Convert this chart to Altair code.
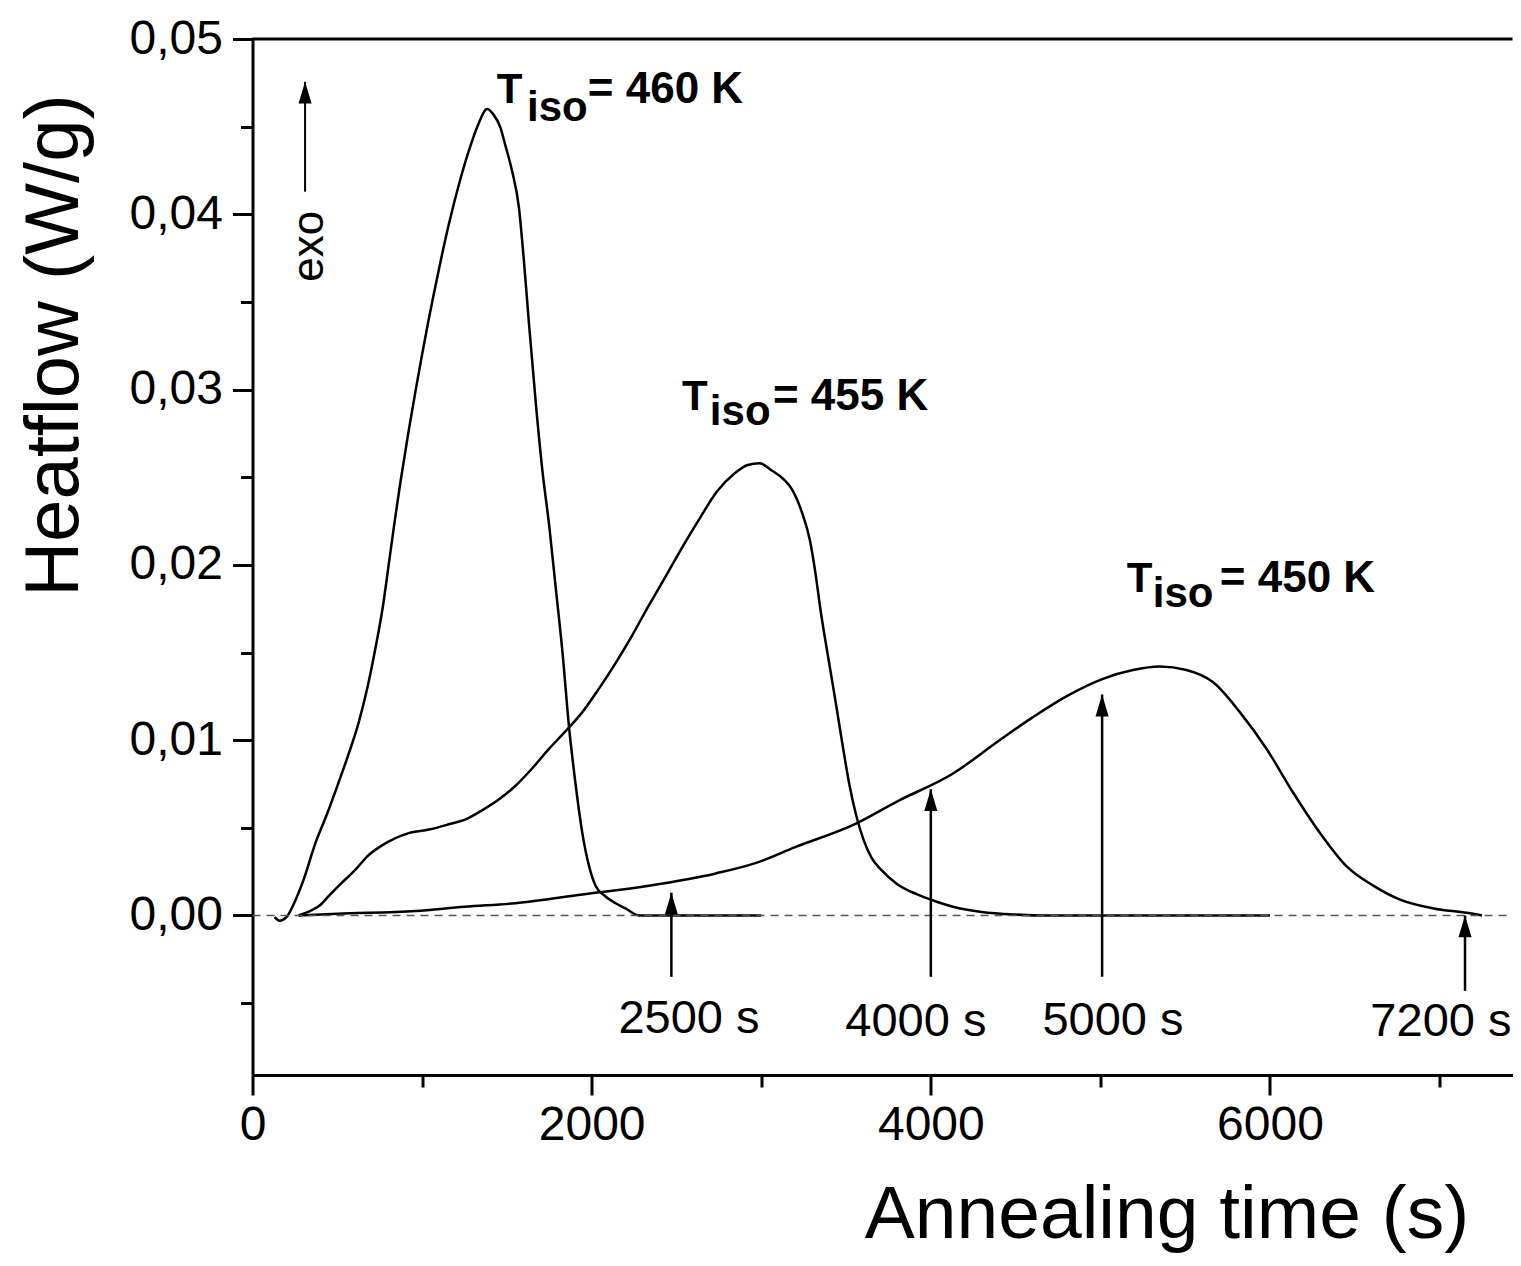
import altair as alt
import pandas as pd

# ---- data ----
t460 = [130, 160, 200, 250, 300, 370, 440, 508, 570, 626, 680, 724, 770, 803, 840, 872, 920, 961, 1000,
        1039, 1100, 1157, 1220, 1275, 1330, 1384, 1420, 1460, 1492, 1530, 1571, 1600, 1630, 1670, 1708,
        1750, 1787, 1830, 1866, 1905, 1945, 1985, 2023, 2080, 2141, 2200, 2279, 3000]
h460 = [-0.0001, -0.0003, -0.0001, 0.0008, 0.0020, 0.0041, 0.0058, 0.0076, 0.0093, 0.0110, 0.0131, 0.0152,
        0.0177, 0.0200, 0.0226, 0.0247, 0.0276, 0.0299, 0.0320, 0.0340, 0.0369, 0.0394, 0.0418, 0.0436,
        0.0451, 0.0460, 0.0457, 0.0450, 0.0439, 0.0425, 0.0404, 0.0374, 0.0338, 0.0293, 0.0255, 0.0222,
        0.0188, 0.0148, 0.0108, 0.0075, 0.0047, 0.0028, 0.0017, 0.0011, 0.0007, 0.0004, 0.0000, 0.0000]

t455 = [272, 350, 400, 449, 520, 606, 680, 764, 840, 921, 1040, 1157, 1260, 1354, 1450, 1551, 1650, 1748,
        1845, 1945, 2040, 2141, 2240, 2338, 2440, 2540, 2640, 2740, 2840, 2920, 2990, 3060, 3130, 3182,
        3240, 3287, 3320, 3350, 3390, 3435, 3480, 3519, 3560, 3604, 3650, 3708, 3800, 3920, 4030, 4131,
        4300, 4500, 4700, 6000]
h455 = [0.0, 0.0003, 0.0006, 0.0011, 0.0018, 0.0026, 0.0034, 0.0040, 0.0044, 0.0047, 0.0049, 0.0052,
        0.0055, 0.0060, 0.0066, 0.0074, 0.0084, 0.0095, 0.0105, 0.0116, 0.0129, 0.0144, 0.0160, 0.0177,
        0.0194, 0.0211, 0.0227, 0.0242, 0.0252, 0.0257, 0.0258, 0.0254, 0.0249, 0.0243, 0.0230, 0.0214,
        0.0195, 0.0174, 0.0150, 0.0124, 0.0097, 0.0075, 0.0057, 0.0043, 0.0033, 0.0026, 0.0018, 0.0012,
        0.0008, 0.0005, 0.0002, 0.00005, 0.0, 0.0]

t450 = [272, 500, 961, 1250, 1551, 1945, 2338, 2732, 2970, 3200, 3549, 3800, 4131, 4405, 4600, 4799,
        5015, 5192, 5350, 5507, 5665, 5822, 5980, 6137, 6295, 6452, 6609, 6767, 6964, 7161, 7250]
h450 = [0.0, 0.0001, 0.00025, 0.0005, 0.0007, 0.0012, 0.0017, 0.0024, 0.0030, 0.0039, 0.0052, 0.0065,
        0.0081, 0.0100, 0.0113, 0.0125, 0.0135, 0.0140, 0.0142, 0.0140, 0.0133, 0.0116, 0.0095, 0.0070,
        0.0047, 0.0028, 0.0017, 0.0009, 0.0004, 0.00015, 0.0]

# arrows marking times
arrow_x = [2470, 4000, 5010, 7150]
arrow_tip = [0.0013, 0.0072, 0.0126, 0.0]
arrow_base = [-0.0035, -0.0035, -0.0035, -0.0043]
arrow_labels = ["2500 s", "4000 s", "5000 s", "7200 s"]
arrow_label_x = [2574, 3912, 5074, 7008]
arrow_label_y = [-0.0067, -0.0069, -0.0068, -0.0069]

# peak labels: "T", subscript "iso", "= ... K"
sym_text = ["T", "iso", "T", "iso", "T", "iso"]
sym_x = [1441, 1619, 2532, 2697, 5156, 5309]
sym_y = [0.04637, 0.04532, 0.02886, 0.02800, 0.01848, 0.01757]
val_text = ["= 460 K", "= 455 K", "= 450 K"]
val_x = [1977, 3069, 5704]
val_y = [0.04637, 0.02886, 0.01848]

x_major = [0, 2000, 4000, 6000]
x_minor = [1000, 3000, 5000, 7000]
y_major = [0.0, 0.01, 0.02, 0.03, 0.04, 0.05]
y_minor = [-0.005, 0.005, 0.015, 0.025, 0.035, 0.045]

FONT = "Liberation Sans"
xs = alt.Scale(domain=[0, 7430], nice=False, zero=False)
ys = alt.Scale(domain=[-0.0091, 0.05], nice=False, zero=False)

rows = []
for name, ts, hs in [("460 K", t460, h460), ("455 K", t455, h455), ("450 K", t450, h450)]:
    for i, (t, h) in enumerate(zip(ts, hs)):
        rows.append({"series": name, "i": i, "x": t, "y": h})
curves_df = pd.DataFrame(rows)

x_axis = alt.Axis(
    values=x_major, format="d", orient="bottom",
    tickSize=20, tickWidth=3, tickColor="black", domainWidth=3, domainColor="black",
    labelFont=FONT, labelFontSize=48, labelColor="black", labelPadding=6,
    labelFlush=False, labelOverlap=False, grid=False,
    title="Annealing time (s)", titleFont=FONT, titleFontSize=75, titleFontWeight="normal",
    titleColor="black", titleX=914, titleY=162, titleAlign="center", titleBaseline="alphabetic",
)
y_axis = alt.Axis(
    values=y_major, orient="left",
    labelExpr="replace(format(datum.value, '.2f'), '.', ',')",
    tickSize=20, tickWidth=3, tickColor="black", domainWidth=3, domainColor="black",
    labelFont=FONT, labelFontSize=48, labelColor="black", labelPadding=10,
    labelFlush=False, labelOverlap=False, grid=False,
    title="Heatflow (W/g)", titleFont=FONT, titleFontSize=76, titleFontWeight="normal",
    titleColor="black", titleAngle=270, titleX=-175, titleY=306, titleAlign="center",
    titleBaseline="alphabetic",
)
x_minor_axis = alt.Axis(
    values=x_minor, orient="bottom", tickSize=12, tickWidth=3, tickColor="black",
    labels=False, domain=False, grid=False, title=None,
)
y_minor_axis = alt.Axis(
    values=y_minor, orient="left", tickSize=12, tickWidth=3, tickColor="black",
    labels=False, domain=False, grid=False, title=None,
)

curves = alt.Chart(curves_df).mark_line(color="black", strokeWidth=2.5, interpolate="monotone").encode(
    x=alt.X("x:Q", scale=xs, axis=x_axis),
    y=alt.Y("y:Q", scale=ys, axis=y_axis),
    detail="series:N",
    order="i:Q",
)

baseline = alt.Chart(pd.DataFrame({"x": [0, 7430], "y": [0.0, 0.0]})).mark_line(
    color="#555555", strokeWidth=1.6, strokeDash=[8, 6]
).encode(
    x=alt.X("x:Q", scale=xs, axis=x_minor_axis),
    y=alt.Y("y:Q", scale=ys, axis=y_minor_axis),
)

topline = alt.Chart(pd.DataFrame({"y": [0.05]})).mark_rule(
    color="black", strokeWidth=3
).encode(y=alt.Y("y:Q", scale=ys, axis=None))

arrows_df = pd.DataFrame({"x": arrow_x, "y": arrow_tip, "y0": arrow_base})
shafts = alt.Chart(arrows_df).mark_rule(color="black", strokeWidth=2.5).encode(
    x=alt.X("x:Q", scale=xs, axis=None),
    y=alt.Y("y0:Q", scale=ys, axis=None),
    y2="y:Q",
)
head_shape = "M0,0 L-0.3,1 L0.3,1 Z"
heads = alt.Chart(arrows_df).mark_point(
    shape=head_shape, filled=True, size=1900, color="black", opacity=1, strokeWidth=0
).encode(
    x=alt.X("x:Q", scale=xs, axis=None),
    y=alt.Y("y:Q", scale=ys, axis=None),
)

alabels = alt.Chart(pd.DataFrame({"x": arrow_label_x, "y": arrow_label_y, "t": arrow_labels})).mark_text(
    font=FONT, fontSize=47, color="black", align="center", baseline="alphabetic"
).encode(
    x=alt.X("x:Q", scale=xs, axis=None),
    y=alt.Y("y:Q", scale=ys, axis=None),
    text="t:N",
)

sym_labels = alt.Chart(pd.DataFrame({"x": sym_x, "y": sym_y, "t": sym_text})).mark_text(
    font=FONT, fontSize=42, fontWeight="bold", color="black", align="left", baseline="alphabetic"
).encode(
    x=alt.X("x:Q", scale=xs, axis=None),
    y=alt.Y("y:Q", scale=ys, axis=None),
    text="t:N",
)
val_labels = alt.Chart(pd.DataFrame({"x": val_x, "y": val_y, "t": val_text})).mark_text(
    font=FONT, fontSize=44, fontWeight="bold", color="black", align="left", baseline="alphabetic"
).encode(
    x=alt.X("x:Q", scale=xs, axis=None),
    y=alt.Y("y:Q", scale=ys, axis=None),
    text="t:N",
)

# "exo" indicator
exo_df = pd.DataFrame({"x": [310], "y": [0.04756], "y0": [0.04129]})
exo_shaft = alt.Chart(exo_df).mark_rule(color="black", strokeWidth=2).encode(
    x=alt.X("x:Q", scale=xs, axis=None),
    y=alt.Y("y0:Q", scale=ys, axis=None),
    y2="y:Q",
)
exo_head = alt.Chart(exo_df).mark_point(
    shape=head_shape, filled=True, size=1900, color="black", opacity=1, strokeWidth=0
).encode(
    x=alt.X("x:Q", scale=xs, axis=None),
    y=alt.Y("y:Q", scale=ys, axis=None),
)
exo_text = alt.Chart(pd.DataFrame({"x": [339], "y": [0.03818], "t": ["exo"]})).mark_text(
    font=FONT, fontSize=44, color="black", angle=270, align="center", baseline="middle"
).encode(
    x=alt.X("x:Q", scale=xs, axis=None),
    y=alt.Y("y:Q", scale=ys, axis=None),
    text="t:N",
)

chart = alt.layer(
    curves, baseline, topline, shafts, heads, alabels, sym_labels, val_labels,
    exo_shaft, exo_head, exo_text
).resolve_axis(x="independent", y="independent").properties(
    width=1260, height=1036,
    autosize=alt.AutoSizeParams(type="none"),
    padding={"left": 244.5, "top": 31, "right": 0, "bottom": 182},
    background="white",
).configure_view(stroke=None)

chart.save("out.html", embed_options={"renderer": "svg", "actions": False})
